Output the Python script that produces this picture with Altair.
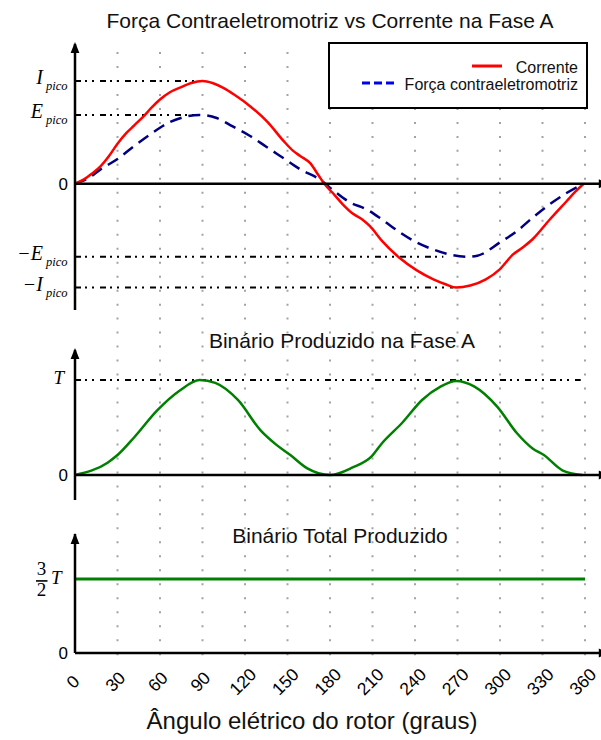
import altair as alt
import pandas as pd

# ---------------------------------------------------------------------------
# Waveforms of phase A against electrical angle (degrees), in per-unit of
# the peak current (top panel) and of the peak phase torque T (lower panels)
# ---------------------------------------------------------------------------
cur_deg = [0, 6, 12, 18, 24, 30, 36, 42, 48, 54,
           60, 67, 75, 82, 90, 97, 105, 112, 124, 136,
           147, 154, 159, 166, 172, 176, 182, 189, 196, 203,
           208, 217, 229, 241, 253, 262, 269, 279, 290, 300,
           309, 316, 323, 335, 347, 353, 359]
cur_val = [0.0, 0.04, 0.10, 0.17, 0.27, 0.39, 0.49, 0.57, 0.65, 0.74,
           0.82, 0.89, 0.94, 0.98, 1.0, 0.98, 0.93, 0.87, 0.75, 0.60,
           0.42, 0.32, 0.27, 0.20, 0.08, 0.0, -0.09, -0.20, -0.29, -0.35,
           -0.41, -0.56, -0.72, -0.84, -0.93, -0.98, -1.01, -0.99, -0.93, -0.83,
           -0.69, -0.62, -0.54, -0.35, -0.17, -0.08, 0.0]

emf_deg = [0, 10, 18, 30, 41, 53, 60, 67, 76, 88,
           100, 111, 123, 135, 147, 159, 173, 182, 194, 206,
           217, 229, 241, 253, 265, 277, 284, 300, 312, 323,
           335, 347, 359]
emf_val = [0.0, 0.06, 0.14, 0.24, 0.36, 0.48, 0.545, 0.60, 0.645, 0.67,
           0.64, 0.56, 0.47, 0.36, 0.25, 0.14, 0.04, -0.06, -0.18, -0.25,
           -0.35, -0.47, -0.57, -0.64, -0.69, -0.71, -0.70, -0.57, -0.46, -0.33,
           -0.20, -0.09, 0.0]

torque_deg = [0, 23, 30, 42, 58, 74, 88, 99, 115, 131,
              142, 152, 164, 180, 196, 209, 217, 231, 245, 258,
              269, 282, 298, 312, 323, 331, 344, 358]
torque_val = [0.0, 0.13, 0.21, 0.40, 0.68, 0.89, 1.0, 0.97, 0.79, 0.47,
              0.32, 0.21, 0.07, 0.0, 0.08, 0.19, 0.34, 0.55, 0.79, 0.93,
              0.99, 0.93, 0.72, 0.44, 0.28, 0.21, 0.05, 0.0]

total_deg = [0, 360]
total_val = [1.5, 1.5]

# Reference levels (peak values) and where their guide lines stop
ref_top_level = [1.0, 0.67, -0.71, -1.01]
ref_top_end = [88, 88, 260, 267]
ref_top_sym = ["I", "E", "\u2212E", "\u2212I"]
ref_mid_level = [1.0]
ref_mid_end = [357]

tick_deg = list(range(0, 361, 30))
grid_deg = list(range(30, 361, 30))

title_top = "Força Contraeletromotriz vs Corrente na Fase A"
title_mid = "Binário Produzido na Fase A"
title_bot = "Binário Total Produzido"
x_title = "Ângulo elétrico do rotor (graus)"
legend_names = ["Corrente", "Força contraeletromotriz"]

# ---------------------------------------------------------------------------
SANS = "Liberation Sans"
SERIF = "Liberation Serif"
RED = "#ff0000"
NAVY = "#000080"
GREEN = "#008000"
REF_DASH = [6, 4, 2, 5, 2, 6]
ARROW_UP = "M0,0L0.4,1L-0.4,1Z"
ARROW_RIGHT = "M0,0L-1,-0.4L-1,0.4Z"
AXIS_END = 377.5

xs = alt.Scale(domain=[0, 372], range=[75, 602], nice=False, zero=False)
yA = alt.Scale(domain=[-1.228, 1.379], range=[310, 42], nice=False, zero=False)
yB = alt.Scale(domain=[-0.263, 1.337], range=[500, 348], nice=False, zero=False)
yC = alt.Scale(domain=[0, 2.43], range=[653, 533], nice=False, zero=False)


def X(field):
    return alt.X(f"{field}:Q", scale=xs, axis=None)


def Y(field, scale):
    return alt.Y(f"{field}:Q", scale=scale, axis=None)


def axes(scale, lo, hi):
    """Arrowed y axis at 0 deg and x axis at level 0 for one panel."""
    yax = alt.Chart(pd.DataFrame({"d": [0], "lo": [lo], "hi": [hi - 0.02]})).mark_rule(
        color="black", strokeWidth=2.5
    ).encode(x=X("d"), y=Y("lo", scale), y2="hi:Q")
    xax = alt.Chart(pd.DataFrame({"a": [0], "b": [AXIS_END - 2], "v": [0]})).mark_rule(
        color="black", strokeWidth=2.5
    ).encode(x=X("a"), x2="b:Q", y=Y("v", scale))
    up = alt.Chart(pd.DataFrame({"d": [0], "hi": [hi]})).mark_point(
        shape=ARROW_UP, size=484, filled=True, color="black", opacity=1
    ).encode(x=X("d"), y=Y("hi", scale))
    right = alt.Chart(pd.DataFrame({"d": [AXIS_END], "v": [0]})).mark_point(
        shape=ARROW_RIGHT, size=484, filled=True, color="black", opacity=1
    ).encode(x=X("d"), y=Y("v", scale))
    return [yax, xax, up, right]


def zero_label(scale):
    return alt.Chart(pd.DataFrame({"v": [0], "t": ["0"]})).mark_text(
        align="right", baseline="alphabetic", dy=6, font=SANS, fontSize=17, color="black"
    ).encode(x=alt.value(68), y=Y("v", scale), text="t:N")


# --- dotted background grid --------------------------------------------------
grid = alt.Chart(pd.DataFrame({"d": grid_deg})).mark_rule(
    color="#a3a3a3", strokeWidth=2, strokeDash=[2, 11.98], strokeCap="butt"
).encode(x=X("d"), y=alt.value(52), y2=alt.value(656))

# --- panel A: back-EMF and current -----------------------------------------
refA = pd.DataFrame({"start": [0] * 4, "end": ref_top_end, "level": ref_top_level,
                     "sym": ref_top_sym, "sub": ["pico"] * 4})
refA_lines = alt.Chart(refA).mark_rule(
    color="black", strokeWidth=2, strokeDash=REF_DASH
).encode(x=X("start"), x2="end:Q", y=Y("level", yA))
cur_line = alt.Chart(pd.DataFrame({"deg": cur_deg, "v": cur_val})).mark_line(
    color=RED, strokeWidth=2.5, interpolate="monotone"
).encode(x=X("deg"), y=Y("v", yA))
emf_line = alt.Chart(pd.DataFrame({"deg": emf_deg, "v": emf_val})).mark_line(
    color=NAVY, strokeWidth=2.5, strokeDash=[12, 7], interpolate="monotone"
).encode(x=X("deg"), y=Y("v", yA))
labA_main = alt.Chart(refA).mark_text(
    align="right", baseline="alphabetic", dy=3, font=SERIF, fontStyle="italic",
    fontSize=20, color="black"
).encode(x=alt.value(43), y=Y("level", yA), text="sym:N")
labA_sub = alt.Chart(refA).mark_text(
    align="left", baseline="alphabetic", dy=9, font=SERIF, fontStyle="italic",
    fontSize=12.5, color="black"
).encode(x=alt.value(46), y=Y("level", yA), text="sub:N")

panelA = alt.layer(refA_lines, emf_line, cur_line, *axes(yA, -1.228, 1.379),
                   labA_main, labA_sub, zero_label(yA))

# --- panel B: phase-A torque --------------------------------------------------
refB = pd.DataFrame({"start": [0], "end": ref_mid_end, "level": ref_mid_level, "sym": ["T"]})
refB_line = alt.Chart(refB).mark_rule(
    color="black", strokeWidth=2, strokeDash=REF_DASH
).encode(x=X("start"), x2="end:Q", y=Y("level", yB))
torque_line = alt.Chart(pd.DataFrame({"deg": torque_deg, "v": torque_val})).mark_line(
    color=GREEN, strokeWidth=2.5, interpolate="monotone"
).encode(x=X("deg"), y=Y("v", yB))
labB = alt.Chart(refB).mark_text(
    align="right", baseline="alphabetic", dy=4, font=SERIF, fontStyle="italic",
    fontSize=19, color="black"
).encode(x=alt.value(64), y=Y("level", yB), text="sym:N")

panelB = alt.layer(refB_line, torque_line, *axes(yB, -0.263, 1.337), labB, zero_label(yB))

# --- panel C: total torque ----------------------------------------------------
total_line = alt.Chart(pd.DataFrame({"deg": total_deg, "v": total_val})).mark_line(
    color=GREEN, strokeWidth=3
).encode(x=X("deg"), y=Y("v", yC))
fracC = pd.DataFrame({"v": [1.5], "num": ["3"], "den": ["2"], "sym": ["T"]})
frac_num = alt.Chart(fracC).mark_text(
    align="center", baseline="alphabetic", dy=-4, font=SERIF, fontSize=19, color="black"
).encode(x=alt.value(41.5), y=Y("v", yC), text="num:N")
frac_den = alt.Chart(fracC).mark_text(
    align="center", baseline="alphabetic", dy=17, font=SERIF, fontSize=19, color="black"
).encode(x=alt.value(41.5), y=Y("v", yC), text="den:N")
frac_bar = alt.Chart(fracC).mark_rule(
    color="black", strokeWidth=1.6, yOffset=2
).encode(x=alt.value(36), x2=alt.value(47.5), y=Y("v", yC))
frac_T = alt.Chart(fracC).mark_text(
    align="left", baseline="alphabetic", dy=5, font=SERIF, fontStyle="italic",
    fontSize=19, color="black"
).encode(x=alt.value(51), y=Y("v", yC), text="sym:N")

panelC = alt.layer(total_line, *axes(yC, 0, 2.43), frac_num, frac_den, frac_bar,
                   frac_T, zero_label(yC))

# --- titles, tick labels, axis title -----------------------------------------
def title_text(txt, x, y, size):
    return alt.Chart(pd.DataFrame({"t": [txt]})).mark_text(
        align="center", baseline="alphabetic", font=SANS, fontSize=size, color="#111111"
    ).encode(x=alt.value(x), y=alt.value(y), text="t:N")


ticks = alt.Chart(pd.DataFrame({"d": tick_deg, "t": [str(d) for d in tick_deg]})).mark_text(
    align="center", baseline="middle", angle=315, font=SANS, fontSize=17.5, color="black", dx=-2
).encode(x=X("d"), y=alt.value(681), text="t:N")

# --- legend box ---------------------------------------------------------------
legend_box = alt.Chart(pd.DataFrame({"k": [0]})).mark_rect(
    fill="white", stroke="black", strokeWidth=2
).encode(x=alt.value(329), x2=alt.value(587), y=alt.value(43), y2=alt.value(108))
leg_red = alt.Chart(pd.DataFrame({"k": [0]})).mark_rule(
    color=RED, strokeWidth=3
).encode(x=alt.value(472), x2=alt.value(502), y=alt.value(66))
leg_blue = alt.Chart(pd.DataFrame({"k": [0]})).mark_rule(
    color="#0000ee", strokeWidth=3, strokeDash=[8, 4]
).encode(x=alt.value(362), x2=alt.value(394), y=alt.value(83))
leg_text1 = alt.Chart(pd.DataFrame({"t": [legend_names[0]]})).mark_text(
    align="right", baseline="alphabetic", font=SANS, fontSize=16, color="#111111"
).encode(x=alt.value(578), y=alt.value(73), text="t:N")
leg_text2 = alt.Chart(pd.DataFrame({"t": [legend_names[1]]})).mark_text(
    align="right", baseline="alphabetic", font=SANS, fontSize=16, color="#111111"
).encode(x=alt.value(578), y=alt.value(90), text="t:N")

chart = alt.layer(
    grid,
    panelA, panelB, panelC,
    title_text(title_top, 330, 28, 21),
    title_text(title_mid, 342, 348, 21),
    title_text(title_bot, 340, 543, 21),
    ticks,
    title_text(x_title, 312, 729, 24),
    legend_box, leg_red, leg_blue, leg_text1, leg_text2,
).resolve_scale(
    y="independent"
).properties(
    width=601, height=740, padding=0,
    autosize=alt.AutoSizeParams(type="none"),
).configure_view(strokeWidth=0)

chart.save("out.html", embed_options={"renderer": "svg", "actions": False})
